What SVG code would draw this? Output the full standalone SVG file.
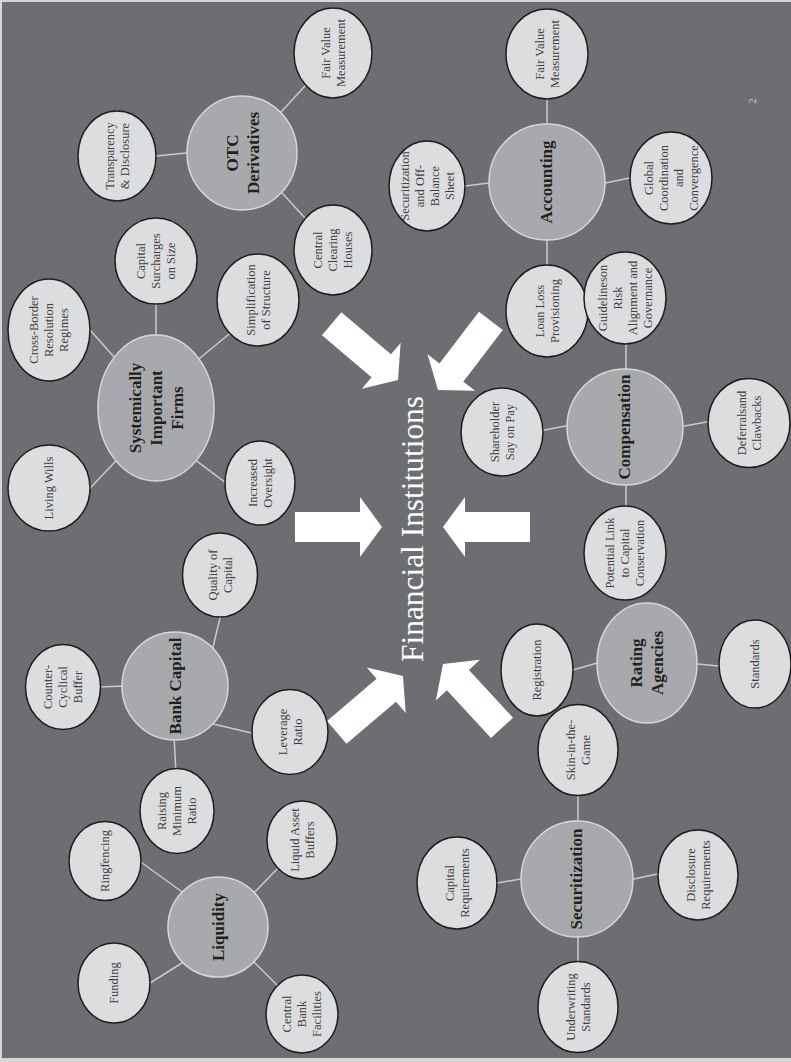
<svg xmlns="http://www.w3.org/2000/svg" xmlns:xlink="http://www.w3.org/1999/xlink" width="791" height="1062" viewBox="0 0 791 1062">
<style>
.bg{fill:#6d6e71}
.hub{fill:#a7a9ac;stroke:#d6d7d9;stroke-width:1.5}
.leaf{fill:#dcdddf;stroke:#1f1c1d;stroke-width:1.5}
.ht{font-family:"Liberation Serif",serif;font-weight:bold;font-size:17px;fill:#231f20;text-anchor:middle}
.lt{font-family:"Liberation Serif",serif;font-size:12.5px;fill:#3f3f41;text-anchor:middle}
.conn line{stroke:#c9cacc;stroke-width:1.5}
.arrow{fill:#ffffff}
</style>
<defs>
<path id="arr" d="M0,0 L-22,-30 L-22,-15 L-87,-15 L-87,15 L-22,15 L-22,30 Z"/>
</defs>
<rect x="0" y="0" width="791" height="1062" fill="#d6d7d9"/>
<rect class="bg" x="2" y="2" width="789" height="1056"/>

<g id="connectors" class="conn">
<line x1="279.3" y1="114" x2="307.7" y2="83"/>
<line x1="152" y1="156.4" x2="191" y2="152.6"/>
<line x1="279.3" y1="190" x2="308.7" y2="222"/>
<line x1="156" y1="300" x2="156" y2="339"/>
<line x1="197" y1="360.5" x2="231" y2="332.5"/>
<line x1="87.3" y1="327" x2="117.7" y2="361"/>
<line x1="88.2" y1="490" x2="117.8" y2="459"/>
<line x1="194.8" y1="459.6" x2="229.2" y2="485.4"/>
<line x1="212" y1="651" x2="221" y2="614"/>
<line x1="98" y1="687" x2="126" y2="686"/>
<line x1="209" y1="723" x2="256" y2="734"/>
<line x1="174" y1="736" x2="176" y2="773"/>
<line x1="138" y1="860" x2="185" y2="894"/>
<line x1="252" y1="895" x2="280" y2="866"/>
<line x1="147" y1="985" x2="185" y2="961"/>
<line x1="252" y1="960" x2="280" y2="988"/>
<line x1="547" y1="95" x2="547" y2="128"/>
<line x1="461" y1="186.5" x2="493" y2="182.5"/>
<line x1="601" y1="184" x2="634" y2="177"/>
<line x1="547" y1="237" x2="547" y2="269"/>
<line x1="626" y1="340" x2="626" y2="372"/>
<line x1="539" y1="431" x2="571" y2="425"/>
<line x1="679" y1="427" x2="712" y2="421"/>
<line x1="626" y1="481" x2="626" y2="510"/>
<line x1="569" y1="671" x2="601" y2="662"/>
<line x1="693" y1="663.6" x2="723" y2="666.4"/>
<line x1="578" y1="792" x2="578" y2="825"/>
<line x1="493" y1="883.7" x2="525" y2="878.3"/>
<line x1="629" y1="880" x2="662" y2="873"/>
<line x1="578" y1="933" x2="578" y2="966"/>
</g>

<g id="arrows" class="arrow">
<use xlink:href="#arr" href="#arr" transform="translate(398,380) rotate(40.3)"/>
<use xlink:href="#arr" href="#arr" transform="translate(438,390) rotate(127.4)"/>
<use xlink:href="#arr" href="#arr" transform="translate(382,527)"/>
<use xlink:href="#arr" href="#arr" transform="translate(443,527) rotate(180)"/>
<use xlink:href="#arr" href="#arr" transform="translate(403,676) rotate(-40.4)"/>
<use xlink:href="#arr" href="#arr" transform="translate(443,664) rotate(-132.7)"/>
</g>

<g id="center">
<text transform="translate(423,529) rotate(-90)" font-family="'Liberation Serif',serif" font-size="32" fill="#ffffff" text-anchor="middle" textLength="266" lengthAdjust="spacingAndGlyphs">Financial Institutions</text>
</g>

<!-- OTC Derivatives -->
<g id="otc">
<ellipse class="hub" cx="242" cy="153" rx="55" ry="57"/>
<text class="ht" transform="translate(242,153) rotate(-90)"><tspan x="0" y="-4.5">OTC</tspan><tspan x="0" y="16.5">Derivatives</tspan></text>
</g>
<g id="otc-fv">
<ellipse class="leaf" cx="333" cy="53" rx="39" ry="45"/>
<text class="lt" transform="translate(333,53) rotate(-90)"><tspan x="0" y="-3.2">Fair Value</tspan><tspan x="0" y="11.8">Measurement</tspan></text>
</g>
<g id="otc-td">
<ellipse class="leaf" cx="117" cy="156" rx="39" ry="45"/>
<text class="lt" transform="translate(117,156) rotate(-90)"><tspan x="0" y="-3.2">Transparency</tspan><tspan x="0" y="11.8">&amp; Disclosure</tspan></text>
</g>
<g id="otc-cch">
<ellipse class="leaf" cx="333" cy="250" rx="39" ry="45"/>
<text class="lt" transform="translate(333,250) rotate(-90)"><tspan x="0" y="-10.7">Central</tspan><tspan x="0" y="4.3">Clearing</tspan><tspan x="0" y="19.3">Houses</tspan></text>
</g>

<!-- Systemically Important Firms -->
<g id="sif">
<ellipse class="hub" cx="156" cy="408" rx="58" ry="73"/>
<text class="ht" transform="translate(156,408) rotate(-90)"><tspan x="0" y="-15">Systemically</tspan><tspan x="0" y="6">Important</tspan><tspan x="0" y="27">Firms</tspan></text>
</g>
<g id="sif-cb">
<ellipse class="leaf" cx="49" cy="330" rx="41" ry="51"/>
<text class="lt" transform="translate(49,330) rotate(-90)"><tspan x="0" y="-10.7">Cross-Border</tspan><tspan x="0" y="4.3">Resolution</tspan><tspan x="0" y="19.3">Regimes</tspan></text>
</g>
<g id="sif-cs">
<ellipse class="leaf" cx="156" cy="261" rx="41" ry="43"/>
<text class="lt" transform="translate(156,261) rotate(-90)"><tspan x="0" y="-10.7">Capital</tspan><tspan x="0" y="4.3">Surcharges</tspan><tspan x="0" y="19.3">on Size</tspan></text>
</g>
<g id="sif-ss">
<ellipse class="leaf" cx="258" cy="300" rx="41" ry="46"/>
<text class="lt" transform="translate(258,300) rotate(-90)"><tspan x="0" y="-3.2">Simplification</tspan><tspan x="0" y="11.8">of Structure</tspan></text>
</g>
<g id="sif-lw">
<ellipse class="leaf" cx="49" cy="488" rx="41" ry="43"/>
<text class="lt" transform="translate(49,488) rotate(-90)"><tspan x="0" y="4.3">Living Wills</tspan></text>
</g>
<g id="sif-io">
<ellipse class="leaf" cx="260" cy="483" rx="35" ry="42"/>
<text class="lt" transform="translate(260,483) rotate(-90)"><tspan x="0" y="-3.2">Increased</tspan><tspan x="0" y="11.8">Oversight</tspan></text>
</g>

<!-- Bank Capital -->
<g id="bc">
<ellipse class="hub" cx="175" cy="686" rx="53" ry="54"/>
<text class="ht" transform="translate(175,686) rotate(-90)"><tspan x="0" y="5.5">Bank Capital</tspan></text>
</g>
<g id="bc-qc">
<ellipse class="leaf" cx="220" cy="575" rx="37.5" ry="42"/>
<text class="lt" transform="translate(220,575) rotate(-90)"><tspan x="0" y="-3.2">Quality of</tspan><tspan x="0" y="11.8">Capital</tspan></text>
</g>
<g id="bc-cc">
<ellipse class="leaf" cx="63" cy="687" rx="37.5" ry="42.5"/>
<text class="lt" transform="translate(63,687) rotate(-90)"><tspan x="0" y="-10.7">Counter-</tspan><tspan x="0" y="4.3">Cyclical</tspan><tspan x="0" y="19.3">Buffer</tspan></text>
</g>
<g id="bc-lr">
<ellipse class="leaf" cx="290" cy="732" rx="38" ry="42.5"/>
<text class="lt" transform="translate(290,732) rotate(-90)"><tspan x="0" y="-3.2">Leverage</tspan><tspan x="0" y="11.8">Ratio</tspan></text>
</g>
<g id="bc-rm">
<ellipse class="leaf" cx="177" cy="811" rx="37" ry="42.5"/>
<text class="lt" transform="translate(177,811) rotate(-90)"><tspan x="0" y="-10.7">Raising</tspan><tspan x="0" y="4.3">Minimum</tspan><tspan x="0" y="19.3">Ratio</tspan></text>
</g>

<!-- Liquidity -->
<g id="liq">
<ellipse class="hub" cx="218" cy="927" rx="50" ry="50"/>
<text class="ht" transform="translate(218,927) rotate(-90)"><tspan x="0" y="5.5">Liquidity</tspan></text>
</g>
<g id="liq-rf">
<ellipse class="leaf" cx="105" cy="861" rx="36" ry="39.5"/>
<text class="lt" transform="translate(105,861) rotate(-90)"><tspan x="0" y="4.3">Ringfencing</tspan></text>
</g>
<g id="liq-lab">
<ellipse class="leaf" cx="302" cy="840" rx="35" ry="39"/>
<text class="lt" transform="translate(302,840) rotate(-90)"><tspan x="0" y="-3.2">Liquid Asset</tspan><tspan x="0" y="11.8">Buffers</tspan></text>
</g>
<g id="liq-f">
<ellipse class="leaf" cx="114" cy="983" rx="36" ry="40"/>
<text class="lt" transform="translate(114,983) rotate(-90)"><tspan x="0" y="4.3">Funding</tspan></text>
</g>
<g id="liq-cbf">
<ellipse class="leaf" cx="302" cy="1014" rx="36" ry="39"/>
<text class="lt" transform="translate(302,1014) rotate(-90)"><tspan x="0" y="-10.7">Central</tspan><tspan x="0" y="4.3">Bank</tspan><tspan x="0" y="19.3">Facilities</tspan></text>
</g>

<!-- Accounting -->
<g id="acct">
<ellipse class="hub" cx="547" cy="182" rx="58" ry="58"/>
<text class="ht" transform="translate(547,182) rotate(-90)"><tspan x="0" y="5">Accounting</tspan></text>
</g>
<g id="acct-fv">
<ellipse class="leaf" cx="547" cy="54" rx="41" ry="45"/>
<text class="lt" transform="translate(547,54) rotate(-90)"><tspan x="0" y="-3.2">Fair Value</tspan><tspan x="0" y="11.8">Measurement</tspan></text>
</g>
<g id="acct-sob">
<ellipse class="leaf" cx="427" cy="186" rx="38" ry="45"/>
<text class="lt" transform="translate(427,186) rotate(-90)"><tspan x="0" y="-18.2">Securitization</tspan><tspan x="0" y="-3.2">and Off-</tspan><tspan x="0" y="11.8">Balance</tspan><tspan x="0" y="26.8">Sheet</tspan></text>
</g>
<g id="acct-gcc">
<ellipse class="leaf" cx="671" cy="178" rx="41" ry="46"/>
<text class="lt" transform="translate(671,178) rotate(-90)"><tspan x="0" y="-18.2">Global</tspan><tspan x="0" y="-3.2">Coordination</tspan><tspan x="0" y="11.8">and</tspan><tspan x="0" y="26.8">Convergence</tspan></text>
</g>
<g id="acct-llp">
<ellipse class="leaf" cx="547" cy="311" rx="41" ry="46"/>
<text class="lt" transform="translate(547,311) rotate(-90)"><tspan x="0" y="-3.2">Loan Loss</tspan><tspan x="0" y="11.8">Provisioning</tspan></text>
</g>

<!-- Compensation -->
<g id="comp-g">
<ellipse class="leaf" cx="625" cy="298" rx="41" ry="46"/>
<text class="lt" transform="translate(625,298) rotate(-90)"><tspan x="0" y="-18.2">Guidelineson</tspan><tspan x="0" y="-3.2">Risk</tspan><tspan x="0" y="11.8">Alignment and</tspan><tspan x="0" y="26.8">Governance</tspan></text>
</g>
<g id="comp">
<ellipse class="hub" cx="625" cy="427" rx="58" ry="58"/>
<text class="ht" transform="translate(625,427) rotate(-90)"><tspan x="0" y="5">Compensation</tspan></text>
</g>
<g id="comp-sh">
<ellipse class="leaf" cx="502" cy="432" rx="41" ry="44"/>
<text class="lt" transform="translate(502,432) rotate(-90)"><tspan x="0" y="-3.2">Shareholder</tspan><tspan x="0" y="11.8">Say on Pay</tspan></text>
</g>
<g id="comp-dc">
<ellipse class="leaf" cx="749" cy="423" rx="41" ry="44.5"/>
<text class="lt" transform="translate(749,423) rotate(-90)"><tspan x="0" y="-3.2">Deferralsand</tspan><tspan x="0" y="11.8">Clawbacks</tspan></text>
</g>
<g id="comp-pl">
<ellipse class="leaf" cx="625" cy="553" rx="41" ry="47"/>
<text class="lt" transform="translate(625,553) rotate(-90)"><tspan x="0" y="-10.7">Potential Link</tspan><tspan x="0" y="4.3">to Capital</tspan><tspan x="0" y="19.3">Conservation</tspan></text>
</g>

<!-- Rating Agencies -->
<g id="ra">
<ellipse class="hub" cx="647" cy="663" rx="50" ry="60"/>
<text class="ht" transform="translate(647,663) rotate(-90)"><tspan x="0" y="-5">Rating</tspan><tspan x="0" y="16">Agencies</tspan></text>
</g>
<g id="ra-reg">
<ellipse class="leaf" cx="537" cy="670" rx="36" ry="46"/>
<text class="lt" transform="translate(537,670) rotate(-90)"><tspan x="0" y="4.3">Registration</tspan></text>
</g>
<g id="ra-std">
<ellipse class="leaf" cx="755" cy="664" rx="36" ry="44"/>
<text class="lt" transform="translate(755,664) rotate(-90)"><tspan x="0" y="4.3">Standards</tspan></text>
</g>

<!-- Securitization -->
<g id="sec-skin">
<ellipse class="leaf" cx="578" cy="750" rx="40" ry="45.5"/>
<text class="lt" transform="translate(578,750) rotate(-90)"><tspan x="0" y="-3.2">Skin-in-the-</tspan><tspan x="0" y="11.8">Game</tspan></text>
</g>
<g id="sec">
<ellipse class="hub" cx="577" cy="879" rx="56" ry="58"/>
<text class="ht" transform="translate(577,879) rotate(-90)"><tspan x="0" y="5">Securitization</tspan></text>
</g>
<g id="sec-cap">
<ellipse class="leaf" cx="457" cy="883" rx="40" ry="46"/>
<text class="lt" transform="translate(457,883) rotate(-90)"><tspan x="0" y="-3.2">Capital</tspan><tspan x="0" y="11.8">Requirements</tspan></text>
</g>
<g id="sec-dis">
<ellipse class="leaf" cx="698" cy="875" rx="40" ry="45"/>
<text class="lt" transform="translate(698,875) rotate(-90)"><tspan x="0" y="-3.2">Disclosure</tspan><tspan x="0" y="11.8">Requirements</tspan></text>
</g>
<g id="sec-uw">
<ellipse class="leaf" cx="578" cy="1007" rx="40" ry="45.5"/>
<text class="lt" transform="translate(578,1007) rotate(-90)"><tspan x="0" y="-3.2">Underwriting</tspan><tspan x="0" y="11.8">Standards</tspan></text>
</g>

<g id="page-number">
<text transform="translate(756,101) rotate(-90)" font-family="'Liberation Serif',serif" font-size="11" fill="#cfd0d2" text-anchor="middle">2</text>
</g>
</svg>
